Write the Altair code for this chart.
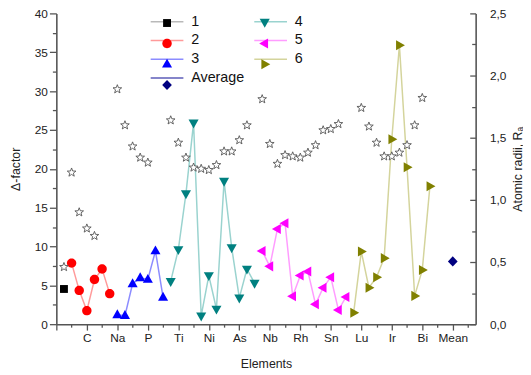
import altair as alt
import pandas as pd

# ---- data ----
series_order = ["1", "2", "3", "Average", "4", "5", "6"]  # legend order (column-wise in 2 columns)
marker_colors = ["#000000", "#ff0000", "#0000ff", "#000080", "#008080", "#ff00ff", "#808000"]
line_colors = ["#b9b9b9", "#ff9a9a", "#8c8cff", "#5c5cb8", "#9ad3cf", "#ff9cff", "#d4d49c"]

s1_x = [1]
s1_y = [4.53]
s2_x = [2, 3, 4, 5, 6, 7]
s2_y = [7.86, 4.35, 1.74, 5.75, 7.1, 3.93]
s3_x = [8, 9, 10, 11, 12, 13, 14]
s3_y = [1.2, 1.1, 5.2, 5.96, 5.75, 9.43, 3.45]
s4_x = [15, 16, 17, 18, 19, 20, 21, 22, 23, 24, 25, 26]
s4_y = [5.5, 9.6, 16.8, 25.9, 1.06, 6.26, 1.95, 18.4, 9.85, 3.38, 7.1, 5.28]
s5_x = [27, 28, 29, 30, 31, 32, 33, 34, 35, 36, 37, 38]
s5_y = [9.43, 7.44, 12.26, 13.0, 3.6, 6.26, 6.77, 2.58, 4.7, 6.05, 1.82, 3.5]
s6_x = [39, 40, 41, 42, 43, 44, 45, 46, 47, 48, 49]
s6_y = [1.48, 9.35, 4.7, 6.05, 8.5, 23.8, 35.9, 20.2, 3.64, 6.98, 17.76]
avg_x = [52]
avg_y = [8.08]

star_x = [1, 2, 3, 4, 5, 8, 9, 10, 11, 12,
          15, 16, 17, 18, 19, 20, 21, 22, 23, 24, 25,
          27, 28, 29, 30, 31, 32, 33, 34, 35, 36, 37,
          40, 41, 42, 43, 44, 45, 46, 47, 48]
star_r = [0.46, 1.22, 0.90, 0.77, 0.71, 1.89, 1.60, 1.43, 1.34, 1.30,
          1.64, 1.46, 1.34, 1.26, 1.25, 1.24, 1.28, 1.39, 1.39, 1.48, 1.60,
          1.81, 1.45, 1.29, 1.36, 1.35, 1.34, 1.38, 1.44, 1.56, 1.57, 1.61,
          1.74, 1.59, 1.46, 1.35, 1.35, 1.38, 1.44, 1.60, 1.82]

tick_pos = [4, 8, 12, 16, 20, 24, 28, 32, 36, 40, 44, 48, 52]
tick_labels = ["C", "Na", "P", "Ti", "Ni", "As", "Nb", "Rh", "Sn", "Lu", "Ir", "Bi", "Mean"]

# ---- marker shapes (unit-box paths, drawn small inside the box) ----
SQUARE = "M-0.47,-0.47H0.47V0.47H-0.47Z"
CIRCLE = "M-0.56,0A0.56,0.56 0 1,0 0.56,0A0.56,0.56 0 1,0 -0.56,0Z"
TRI_UP = "M0,-0.66L0.6,0.4L-0.6,0.4Z"
TRI_DOWN = "M0,0.66L0.6,-0.4L-0.6,-0.4Z"
TRI_LEFT = "M-0.66,0L0.4,-0.6L0.4,0.6Z"
TRI_RIGHT = "M0.66,0L-0.4,-0.6L-0.4,0.6Z"
DIAMOND = "M0,-0.6L0.58,0L0,0.6L-0.58,0Z"
shapes = [SQUARE, CIRCLE, TRI_UP, DIAMOND, TRI_DOWN, TRI_LEFT, TRI_RIGHT]
LEGEND_LINE = "M-1.95,0H1.95"
STAR = "M0,-1L0.247,-0.34L0.951,-0.309L0.399,0.13L0.588,0.809L0,0.42L-0.588,0.809L-0.399,0.13L-0.951,-0.309L-0.247,-0.34Z"

# ---- tables ----
rows = []
for name, xs, ys in [("1", s1_x, s1_y), ("2", s2_x, s2_y), ("3", s3_x, s3_y),
                     ("4", s4_x, s4_y), ("5", s5_x, s5_y), ("6", s6_x, s6_y),
                     ("Average", avg_x, avg_y)]:
    for xv, yv in zip(xs, ys):
        # the line layer gets its own key (trailing space) so its legend is kept separate
        rows.append({"idx": xv, "value": yv, "series": name, "series_line": name + " "})
df = pd.DataFrame(rows)
df_star = pd.DataFrame({"idx": star_x, "radius": star_r})
line_order = [s + " " for s in series_order]

FONT = "Liberation Sans"

label_map = "{" + ",".join(f"'{p}':'{l}'" for p, l in zip(tick_pos, tick_labels)) + "}"
x_axis = alt.Axis(
    values=list(range(0, 55, 2)),
    labelExpr=f"{label_map}[''+datum.value] || ''",
    tickSize={"condition": {"test": "datum.value % 4 == 0", "value": 6}, "value": 3},
    title="Elements", titleFontSize=12.5, titleFontWeight="normal", titlePadding=14,
    labelPadding=3, labelFontSize=12, grid=False,
)
x_enc = alt.X("idx:Q", scale=alt.Scale(domain=[0, 55], nice=False, zero=False), axis=x_axis)

y_left = alt.Y(
    "value:Q",
    scale=alt.Scale(domain=[0, 40], nice=False),
    axis=alt.Axis(
        values=[v * 2.5 for v in range(0, 17)],
        labelExpr="datum.value % 5 == 0 ? datum.value : ''",
        tickSize={"condition": {"test": "datum.value % 5 == 0", "value": 7}, "value": 4},
        title="Δ-factor", titleFontSize=12.5, titleFontWeight="normal", titlePadding=12,
        labelPadding=2, labelFontSize=12, grid=False,
    ),
)

# two legends with identical layout laid over each other: light lines + markers
legend_common = dict(orient="none", columns=2, title=None, padding=0,
                     labelFont=FONT, labelFontSize=14.5, labelColor="#111",
                     rowPadding=3, columnPadding=6, legendX=97.7, legendY=-1,
                     symbolSize=289, symbolStrokeWidth=1.5, symbolOffset=5, labelOffset=15)

legend_lines = alt.Legend(symbolType=LEGEND_LINE, labelExpr="trim(datum.label)", **legend_common)
legend_points = alt.Legend(labelOpacity=0, symbolStrokeColor="transparent", **legend_common)

lines = alt.Chart(df).mark_line(strokeWidth=1.5).encode(
    x=x_enc, y=y_left,
    stroke=alt.Stroke("series_line:N", scale=alt.Scale(domain=line_order, range=line_colors), legend=legend_lines),
    order="idx:Q",
)
points = alt.Chart(df).mark_point(filled=True, size=289, opacity=1).encode(
    x=x_enc, y=y_left,
    fill=alt.Fill("series:N", scale=alt.Scale(domain=series_order, range=marker_colors), legend=legend_points),
    shape=alt.Shape("series:N", scale=alt.Scale(domain=series_order, range=shapes), legend=legend_points),
)
left = alt.layer(lines, points)

stars = alt.Chart(df_star).mark_point(shape=STAR, size=85, filled=True, fill="white",
                                      stroke="#555", strokeWidth=0.9, opacity=1).encode(
    x=x_enc,
    y=alt.Y("radius:Q", scale=alt.Scale(domain=[0, 2.5], nice=False),
            axis=alt.Axis(orient="right",
                          values=[v * 0.25 for v in range(0, 11)],
                          labelExpr="datum.value % 0.5 == 0 ? replace(format(datum.value, '.1f'), '.', ',') : ''",
                          tickSize={"condition": {"test": "datum.value % 0.5 == 0", "value": -6}, "value": -4},
                          labelPadding=20, labelFontSize=12, grid=False,
                          title="Atomic radii, Rₐ", titleAngle=270, titleFontSize=12.5,
                          titleFontWeight="normal", titlePadding=19)),
)

chart = alt.layer(left, stars).resolve_scale(y="independent").properties(
    width=425, height=315, autosize="none",
    padding={"left": 49, "top": 3, "right": 48, "bottom": 46},
).configure_view(stroke=None).configure_axis(
    domainColor="#555", domainWidth=1.6, tickColor="#555", tickWidth=1.3,
    labelColor="#222", titleColor="#222", labelFont=FONT, titleFont=FONT,
)

chart.save("out.html", embed_options={"renderer": "svg", "actions": False})
